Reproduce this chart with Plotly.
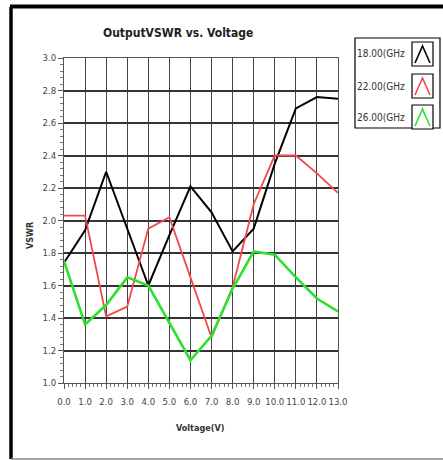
import plotly.graph_objects as go

# Output VSWR measured against bias voltage at three frequencies
voltage = [0, 1, 2, 3, 4, 5, 6, 7, 8, 9, 10, 11, 12, 13]
vswr_18ghz = [1.74, 1.94, 2.30, 1.95, 1.60, 1.91, 2.21, 2.05, 1.81, 1.95, 2.35, 2.69, 2.76, 2.75]
vswr_22ghz = [2.03, 2.03, 1.41, 1.47, 1.95, 2.02, 1.65, 1.28, 1.59, 2.10, 2.40, 2.40, 2.29, 2.17]
vswr_26ghz = [1.75, 1.36, 1.48, 1.65, 1.60, 1.37, 1.14, 1.29, 1.58, 1.81, 1.79, 1.65, 1.52, 1.44]

series_names = ["18.00(GHz", "22.00(GHz", "26.00(GHz"]
series_values = [vswr_18ghz, vswr_22ghz, vswr_26ghz]
series_colors = ["#000000", "#f24848", "#2ee02e"]
series_widths = [2, 1.8, 2.6]

x_tick_vals = list(range(0, 14))
x_tick_text = [f"{v:.1f}" for v in x_tick_vals]
y_tick_vals = [1.0 + 0.2 * i for i in range(11)]
y_tick_text = [f"{v:.1f}" for v in y_tick_vals]

W, H = 443, 460
PL, PR, PT, PB = 64, 338, 58, 383
FONT = "Liberation Sans Narrow, DejaVu Sans Condensed, Arial Narrow, sans-serif"


def px(x):
    return (x - PL) / (PR - PL)


def py(y):
    return (PB - y) / (PB - PT)


fig = go.Figure()
for name, vals, col, w in zip(series_names, series_values, series_colors, series_widths):
    fig.add_trace(go.Scatter(x=voltage, y=vals, mode="lines", name=name,
                             line=dict(color=col, width=w), showlegend=False))

axis_common = dict(
    showline=True, linecolor="#555", linewidth=1, mirror=True,
    ticks="outside", ticklen=5, tickcolor="#555", tickwidth=1,
    tickfont=dict(family=FONT, size=9.5, color="#444"),
    zeroline=False,
)

fig.update_xaxes(range=[0, 13], tickvals=x_tick_vals, ticktext=x_tick_text, tickangle=0,
                 ticklabelstandoff=5,
                 showgrid=True, gridcolor="#444", gridwidth=1,
                 minor=dict(dtick=0.2, ticks="outside", ticklen=3, tickcolor="#777", showgrid=False),
                 **axis_common)
fig.update_yaxes(range=[1.0, 3.0], tickvals=y_tick_vals, ticktext=y_tick_text,
                 showgrid=True, gridcolor="#333", gridwidth=1.8,
                 minor=dict(dtick=0.04, ticks="outside", ticklen=3, tickcolor="#777", showgrid=False),
                 **axis_common)

shapes = []
# outer panel frame
shapes.append(dict(type="line", xref="paper", yref="paper", x0=px(11), y0=py(459), x1=px(11), y1=py(7),
                   line=dict(color="#000", width=3.5)))
shapes.append(dict(type="line", xref="paper", yref="paper", x0=px(10), y0=py(6.5), x1=px(445), y1=py(6.5),
                   line=dict(color="#000", width=4)))
shapes.append(dict(type="line", xref="paper", yref="paper", x0=px(11), y0=py(459), x1=px(445), y1=py(459),
                   line=dict(color="#888", width=1.5)))

# legend box
shapes.append(dict(type="rect", xref="paper", yref="paper", x0=px(355), y0=py(38), x1=px(440), y1=py(128),
                   line=dict(color="#000", width=1.2), fillcolor="white"))

annotations = []
row_centers = [54, 86, 117]
for name, col, cy in zip(series_names, series_colors, row_centers):
    bx0, bx1 = 412, 433
    by0, by1 = cy - 12, cy + 12
    shapes.append(dict(type="rect", xref="paper", yref="paper", x0=px(bx0), y0=py(by0), x1=px(bx1), y1=py(by1),
                       line=dict(color="#000", width=1.2), fillcolor="white"))
    path = (f"M {px(bx0 + 3)} {py(by1 - 3)} L {px((bx0 + bx1) / 2)} {py(by0 + 4)} "
            f"L {px(bx1 - 3)} {py(by1 - 3)}")
    shapes.append(dict(type="path", xref="paper", yref="paper", path=path,
                       line=dict(color=col, width=1.6)))
    annotations.append(dict(text=name, xref="paper", yref="paper", x=px(407), y=py(cy),
                            xanchor="right", yanchor="middle", showarrow=False,
                            font=dict(family=FONT, size=10, color="#333")))

annotations.append(dict(text="<b>OutputVSWR vs. Voltage</b>", xref="paper", yref="paper",
                        x=px(178), y=py(33), xanchor="center", yanchor="middle", showarrow=False,
                        font=dict(family=FONT, size=12, color="#222")))
annotations.append(dict(text="<b>VSWR</b>", xref="paper", yref="paper", x=px(30), y=py(235),
                        xanchor="center", yanchor="middle", showarrow=False, textangle=-90,
                        font=dict(family=FONT, size=9, color="#333")))
annotations.append(dict(text="<b>Voltage(V)</b>", xref="paper", yref="paper", x=px(200), y=py(428),
                        xanchor="center", yanchor="middle", showarrow=False,
                        font=dict(family=FONT, size=9, color="#333")))

fig.update_layout(
    width=W, height=H,
    margin=dict(l=PL, r=W - PR, t=PT, b=H - PB),
    paper_bgcolor="white", plot_bgcolor="white",
    shapes=shapes, annotations=annotations,
    showlegend=False,
)

fig.write_html("out.html")
